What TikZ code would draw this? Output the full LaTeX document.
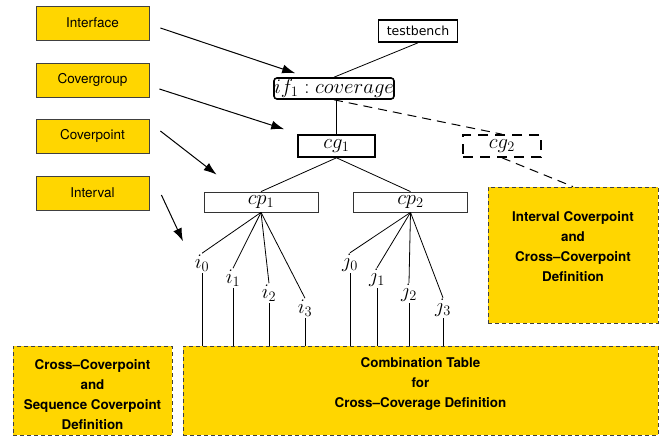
\documentclass[tikz,border=0pt]{standalone}
\usepackage{fontspec}
\setsansfont{TeX Gyre Heros}
\newfontfamily\tbfont{DejaVu Sans}
\usetikzlibrary{arrows.meta, positioning, calc}
\definecolor{covgold}{RGB}{255,214,0}

\begin{document}
\begin{tikzpicture}[x=1pt, y=-1pt, line width=0.8pt,
                kind/.style={draw=black!75, fill=covgold, minimum width=113pt, minimum height=34pt, font=\sffamily\fontsize{13.5}{15}\selectfont},
                defbox/.style={draw=black!75, dash pattern=on 4pt off 3pt, fill=covgold},
                deftext/.style={align=center, font=\sffamily\bfseries\fontsize{13.4}{20}\selectfont},
                inst/.style={draw, line width=1.6pt, inner sep=0pt, font=\fontsize{19.5}{20}\selectfont},
                pnt/.style={draw=black!80, minimum width=114pt, minimum height=20pt, inner sep=0pt, font=\fontsize{19.5}{20}\selectfont},
                leaf/.style={inner sep=1pt, font=\fontsize{19.5}{20}\selectfont},
                pointer/.style={-{Latex[length=13pt,width=9pt]}, line width=1pt}]
                \useasboundingbox (0,0) rectangle (670,436);
                \node[kind] (iface) at (92.5,23) {Interface};
                \node[kind] (cgrp) at (92.5,80) {Covergroup};
                \node[kind] (cpnt) at (92.5,136) {Coverpoint};
                \node[kind] (intv) at (92.5,193) {Interval};
                \node[draw, line width=1.6pt, minimum width=79pt, minimum height=22pt, font=\tbfont\fontsize{12.5}{14}\selectfont] (tb) at (418,31) {testbench};
                \node[inst, rounded corners=3pt, minimum width=120pt, minimum height=21pt] (if1) at (334,88.5) {$if_1 : coverage$};
                \node[inst, minimum width=77pt, minimum height=22pt] (cg1) at (336.5,146) {$cg_1$};
                \node[inst, dash pattern=on 10pt off 7pt, minimum width=78pt, minimum height=22pt] (cg2) at (502,146) {$cg_2$};
                \node[pnt] (cp1) at (261,202) {$cp_1$};
                \node[pnt] (cp2) at (410.5,202) {$cp_2$};
                \node[defbox, minimum width=170pt, minimum height=136pt,
                      label={[deftext, yshift=8pt]center:{Interval Coverpoint\\and\\Cross--Coverpoint\\Definition}}] (ivdef) at (573,255) {};
                \node[defbox, minimum width=159pt, minimum height=89pt,
                      label={[deftext, yshift=-4pt]center:{Cross--Coverpoint\\and\\Sequence Coverpoint\\Definition}}] (ccdef) at (92.5,390.5) {};
                \node[defbox, minimum width=475pt, minimum height=89pt,
                      label={[deftext, yshift=7pt]center:{Combination Table\\for\\Cross--Coverage Definition}}] (ctab) at (420.5,390.5) {};
                \draw (tb.south) -- (if1.north);
                \draw (cg1.north) -- (cg1.north |- if1.south);
                \draw (cg1.south) -- (cp1.north);
                \draw (cg1.south) -- (cp2.north);
                \draw[dash pattern=on 9pt off 6pt, line width=1pt] (if1.south) -- (cg2.north);
                \draw[dash pattern=on 9pt off 6pt, line width=1pt] (cg2.south) -- (ivdef.north);
                \foreach \n/\x/\y in {0/202/263, 1/233/278, 2/269/293, 3/305/308} {
                    \node[leaf] (i\n) at (\x,\y) {$i_\n$};
                    \draw (cp1.south) -- (i\n.north);
                    \draw (i\n.south) -- (i\n.south |- ctab.north);
                }
                \foreach \n/\x/\y in {0/350/263, 1/377/278, 2/409/293, 3/443/308} {
                    \node[leaf] (j\n) at (\x,\y) {$j_\n$};
                    \draw (cp2.south) -- (j\n.north);
                    \draw (j\n.south) -- (j\n.south |- ctab.north);
                }
                \draw[pointer] ([xshift=11pt, yshift=-5pt]iface.east) -- ([xshift=22pt, yshift=4pt]if1.north west);
                \draw[pointer] ([xshift=10pt, yshift=-9pt]cgrp.east) -- ([xshift=-13pt, yshift=5pt]cg1.north west);
                \draw[pointer] ([xshift=11pt, yshift=5pt]cpnt.east) -- ([xshift=13pt, yshift=17pt]cp1.north west);
                \draw[pointer] ([xshift=12pt, yshift=-2pt]intv.east) -- ([xshift=-19pt, yshift=12pt]i0.north);
            \end{tikzpicture}
\end{document}
